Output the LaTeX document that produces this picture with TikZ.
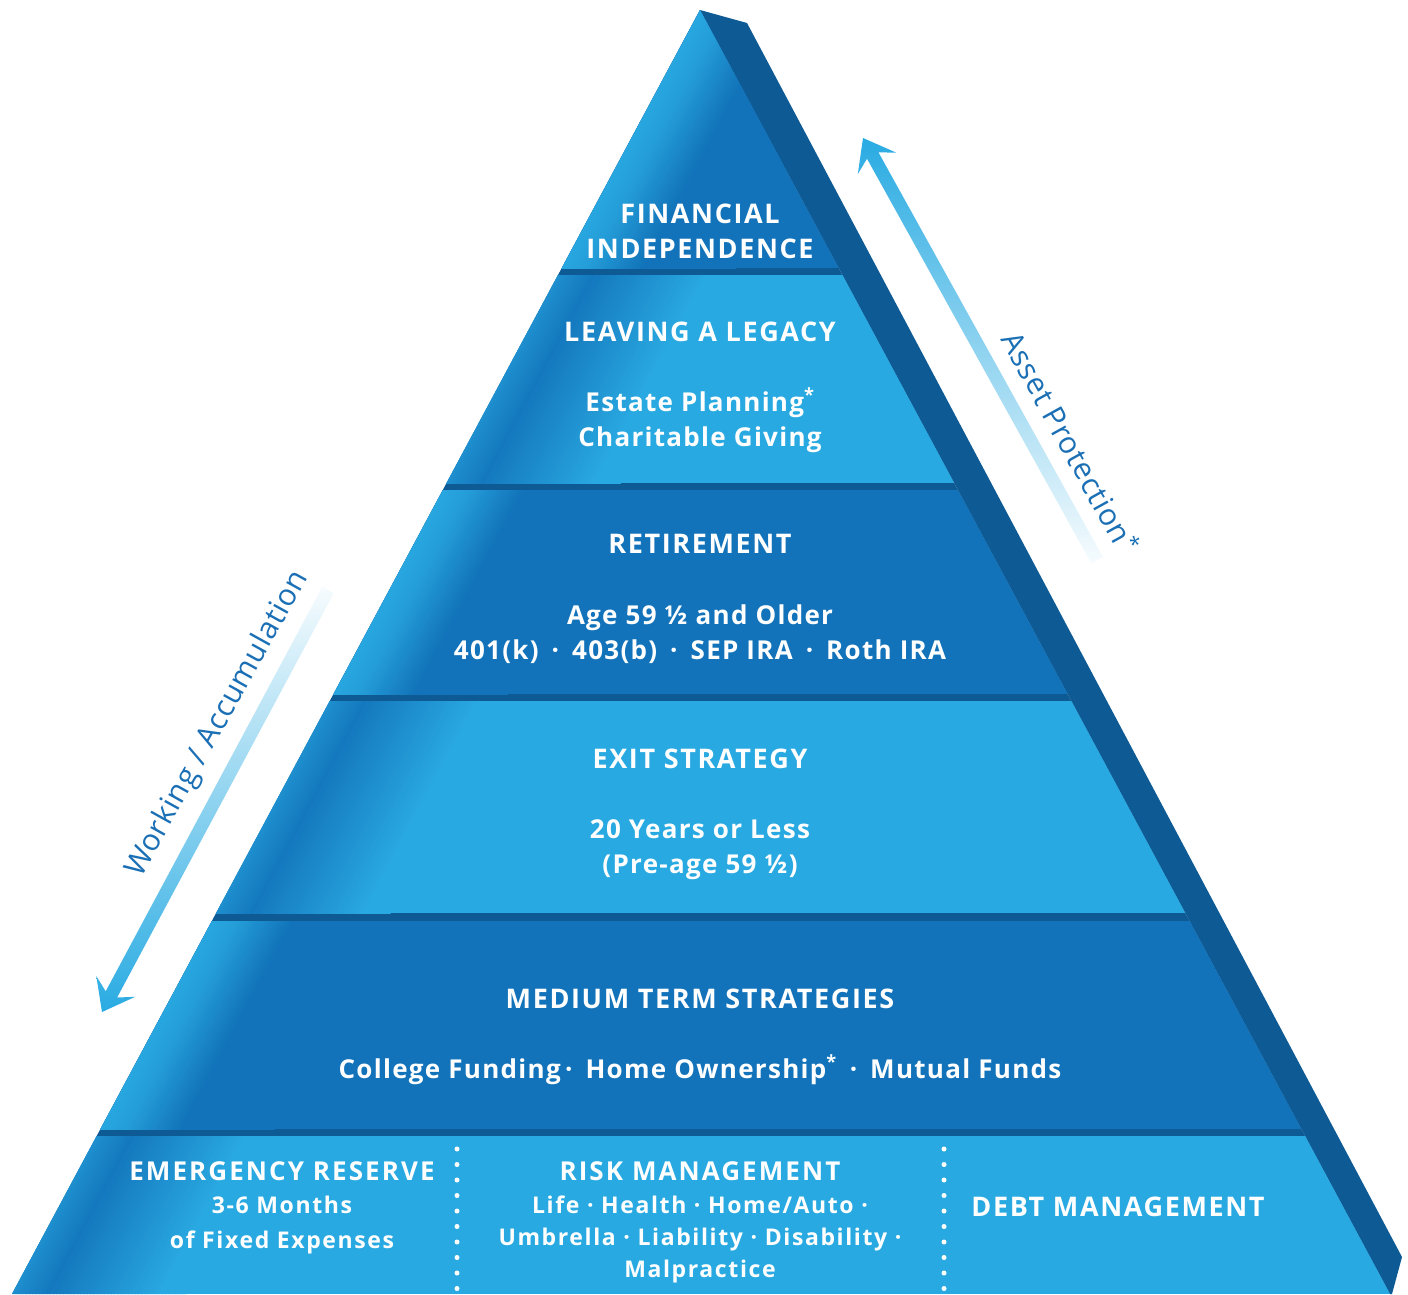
\documentclass[tikz,border=0pt]{standalone}
\usepackage{fontspec}
\setmainfont{Open Sans}
\usetikzlibrary{calc}
\definecolor{dk}{HTML}{1273BA}
\definecolor{lt}{HTML}{29A9E1}
\definecolor{sd}{HTML}{0E5A94}
\definecolor{ar}{HTML}{29ABE2}
\definecolor{tx}{HTML}{1A6FB5}
\newcommand\stripe[2]{%
  \fill[#2] ({747.2+0.881*#1},{-78.1+0.472*#1}) -- ({-35.2+0.881*#1},{1382.1+0.472*#1})
     -- ({-35.2+0.881*(#1+4)},{1382.1+0.472*(#1+4)}) -- ({747.2+0.881*(#1+4)},{-78.1+0.472*(#1+4)}) -- cycle;}
\newcommand\bandD[2]{%
  \begin{scope}
    \clip (0,#1) rectangle (1408,#2);
    \fill[dk] (0,#1) rectangle (1408,#2);
    \foreach \d in {0,3,...,150}{%
      \pgfmathsetmacro\p{\d<20 ? 95-0.75*\d : max(0,80*(70-\d)/50)}%
      \stripe{\d}{lt!\p!dk}}
  \end{scope}}
\newcommand\bandL[2]{%
  \begin{scope}
    \clip (0,#1) rectangle (1408,#2);
    \fill[lt] (0,#1) rectangle (1408,#2);
    \foreach \d in {0,3,...,150}{%
      \pgfmathsetmacro\p{\d<30 ? 50+1.3333*\d : max(0,90*(130-\d)/100)}%
      \stripe{\d}{dk!\p!lt}}
  \end{scope}}
\begin{document}
\begin{tikzpicture}[x=1pt,y=-1pt,
  hd/.style={text=white, font=\bfseries\fontsize{27}{32}\selectfont\addfontfeatures{LetterSpace=6}, anchor=base, inner sep=0pt},
  bd/.style={text=white, font=\bfseries\fontsize{26}{32}\selectfont\addfontfeatures{LetterSpace=5}, anchor=base, inner sep=0pt},
  hs/.style={text=white, font=\bfseries\fontsize{26}{30}\selectfont\addfontfeatures{LetterSpace=8}, anchor=base, inner sep=0pt},
  bs/.style={text=white, font=\bfseries\fontsize{23}{26}\selectfont\addfontfeatures{LetterSpace=7}, anchor=base, inner sep=0pt},
  lab/.style={text=tx, font=\fontsize{30}{34}\selectfont\addfontfeatures{LetterSpace=2}, inner sep=0pt},
  dots/.style={white, line width=5pt, line cap=round, dash pattern=on 0pt off 15.5pt}]
\useasboundingbox (0,0) rectangle (1408,1294);
\fill[white] (0,0) rectangle (1408,1294);
\coordinate (A) at (700,10);
\coordinate (BL) at (12,1294);
\coordinate (BR) at (1390,1294);
\coordinate (S1) at (747,23);
\coordinate (S2) at (1402,1257);
\coordinate (S3) at (1392,1294);
% side face
\fill[sd] (A) -- (S1) -- (S2) -- (S3) -- (BR) -- cycle;
% front face
\begin{scope}
  \clip (A) -- (BR) -- (BL) -- cycle;
  \fill[sd] (0,0) rectangle (1408,1294);
  \bandD{0}{268}
  \bandL{275}{483}
  \bandD{490}{694}
  \bandL{701}{913}
  \bandD{921}{1129}
  \bandL{1136}{1294}
\end{scope}
% texts
\node[hd] (fi1) at (700,223) {FINANCIAL};
\node[hd] (fi2) at (700,258) {INDEPENDENCE};
\node[hd] (lg) at (700,341) {LEAVING A LEGACY};
\node[bd] (lg1) at (700,411) {Estate Planning\textsuperscript{*}};
\node[bd] (lg2) at (700,446) {Charitable Giving};
\node[hd] (rt) at (700,553) {RETIREMENT};
\node[bd] (rt1) at (700,624) {Age 59 ½ and Older};
\node[bd] (rt2) at (700,659) {401(k)\enspace·\enspace403(b)\enspace·\enspace SEP IRA\enspace·\enspace Roth IRA};
\node[hd] (ex) at (700,768) {EXIT STRATEGY};
\node[bd] (ex1) at (700,838) {20 Years or Less};
\node[bd] (ex2) at (700,873) {(Pre-age 59 ½)};
\node[hd] (md) at (700,1008) {MEDIUM TERM STRATEGIES};
\node[bd] (md1) at (700,1078) {College Funding\,·\enspace Home Ownership\textsuperscript{*}\enspace·\enspace Mutual Funds};
\node[hs] (em) at (282,1180) {EMERGENCY RESERVE};
\node[bs] (em1) at (282,1213) {3-6 Months};
\node[bs] (em2) at (282,1248) {of Fixed Expenses};
\node[hs] (rk) at (700,1180) {RISK MANAGEMENT};
\node[bs] (rk1) at (700,1213) {Life · Health · Home/Auto ·};
\node[bs] (rk2) at (700,1245) {Umbrella · Liability · Disability ·};
\node[bs] (rk3) at (700,1277) {Malpractice};
\node[hd] (db) at (1118,1216) {DEBT MANAGEMENT};
% dotted separators
\coordinate (d1a) at (457,1149);
\coordinate (d1b) at (457,1294);
\coordinate (d2a) at (944,1149);
\coordinate (d2b) at (944,1294);
\draw[dots] (d1a) -- (d1b);
\draw[dots] (d2a) -- (d2b);
% Asset Protection arrow (up)
\shade[top color=ar, bottom color=ar!4]
  (1102.7,556.8) -- (878.4,152.3) -- (896.4,152.7) -- (863,138) -- (857.8,174.1)
  -- (867.0,158.7) -- (1091.3,563.2) -- cycle;
\node[lab, rotate=-61] (ap) at (1071,442) {Asset Protection\textsuperscript{*}};
% Working / Accumulation arrow (down)
\shade[top color=ar!4, bottom color=ar]
  (333.7,593.1) -- (117.1,997.5) -- (135.1,996.8) -- (102,1012) -- (96.3,976.0)
  -- (105.7,991.3) -- (322.3,586.9) -- cycle;
\node[lab, rotate=61] (wa) at (218,724) {Working / Accumulation};
\end{tikzpicture}
\end{document}
